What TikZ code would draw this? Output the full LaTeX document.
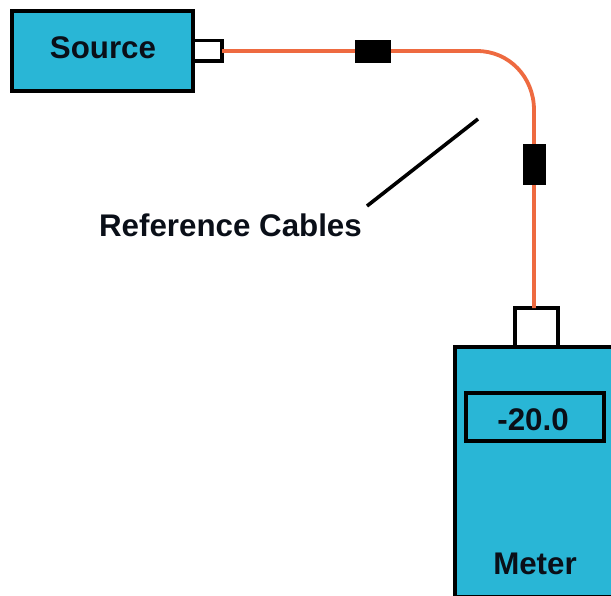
\documentclass[tikz,border=0pt]{standalone}
\usepackage{fontspec}
\setmainfont{Liberation Sans}
\definecolor{boxteal}{HTML}{29B6D6}
\definecolor{cableorange}{HTML}{EE6A40}
\definecolor{inkdark}{HTML}{0A0F18}
\tikzset{
  device/.style={draw=black,line width=4pt,fill=boxteal,inner sep=0pt,outer sep=0pt,minimum width=#1},
  display/.style={draw=black,line width=4pt,inner sep=0pt,outer sep=0pt},
  porthole/.style={draw=black,line width=3.4pt,fill=white,inner sep=0pt,outer sep=0pt},
  ferrule/.style={fill=black,draw=none,inner sep=0pt,outer sep=0pt},
  cable/.style={draw=cableorange,line width=3.8pt},
  lbl/.style={font=\fontsize{31.3}{34}\bfseries\selectfont,text=inkdark,inner sep=0pt,anchor=center},
  pointer/.style={draw=black,line width=3.6pt}
}
\begin{document}
\begin{tikzpicture}[x=1pt,y=-1pt]
\useasboundingbox (0,0) rectangle (611,595);
\clip (0,0) rectangle (611,595);
% devices and ports
\node[porthole,minimum width=30pt,minimum height=20.5pt] (srcPort) at (207,50.75) {};
\node[device=181.5pt,minimum height=80.5pt] (sourceBox) at (102.25,50.75) {};
\node[porthole,minimum width=43pt,minimum height=40pt] (mtrPort) at (536.5,328) {};
\node[device=186pt,minimum height=250pt] (meterBox) at (547.5,471.5) {};
\node[display,minimum width=138.5pt,minimum height=48.5pt] (readout) at (534.75,416.75) {};
% cable
\coordinate (arcStart) at (477,51);
\coordinate (arcEnd) at (534,110);
\draw[cable] (srcPort.east |- arcStart) -- (arcStart) .. controls (509,51) and (534,77) .. (arcEnd) -- (arcEnd |- mtrPort.north);
% connectors
\node[ferrule,minimum width=36pt,minimum height=23pt] (ferruleA) at (373,51.5) {};
\node[ferrule,minimum width=23pt,minimum height=41pt] (ferruleB) at (534.5,164.5) {};
% labels
\node[lbl] (source) at (103,48) {Source};
\node[lbl] (refcables) at (230.5,225) {Reference Cables};
\node[lbl] (reading) at (533,420) {-20.0};
\node[lbl] (meter) at (535,564) {Meter};
% pointer
\coordinate (ptrEnd) at (478,119);
\coordinate (ptrStart) at (367,206);
\draw[pointer] (ptrStart) -- (ptrEnd);
\end{tikzpicture}
\end{document}
